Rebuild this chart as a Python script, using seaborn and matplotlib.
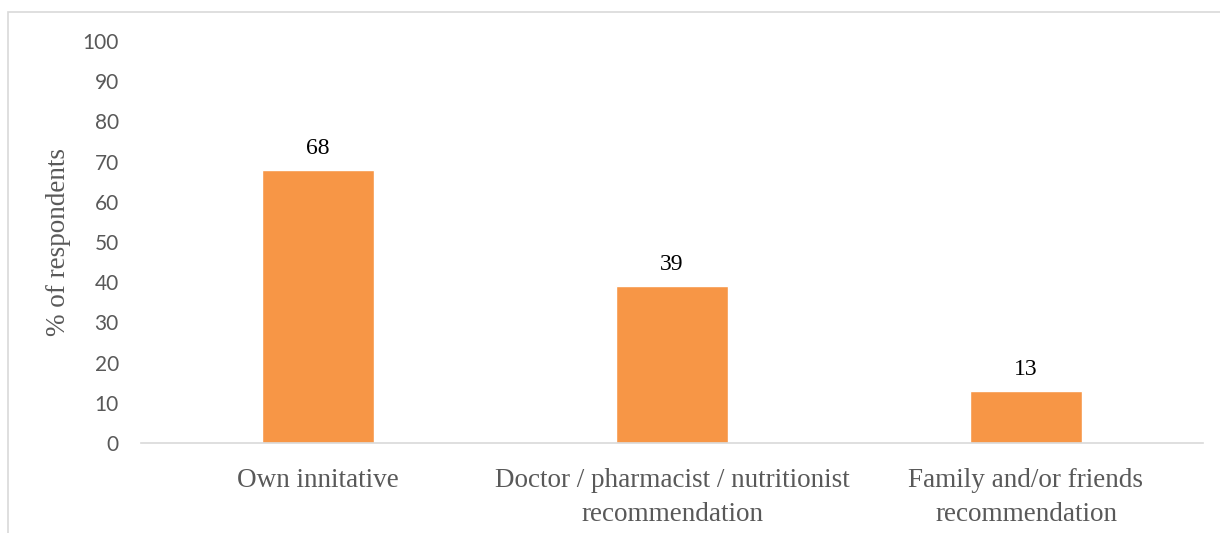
import matplotlib
matplotlib.use("Agg")
import matplotlib.pyplot as plt
import seaborn as sns
import pandas as pd
from matplotlib.patches import Rectangle

categories = ["Own innitative",
              "Doctor / pharmacist / nutritionist\nrecommendation",
              "Family and/or friends\nrecommendation"]
values = [68, 39, 13]
yticks = [0, 10, 20, 30, 40, 50, 60, 70, 80, 90, 100]

sns.set_theme(style="white")
plt.rcParams["font.family"] = ["Liberation Serif", "DejaVu Serif"]

df = pd.DataFrame({"source": categories, "pct": values})

fig = plt.figure(figsize=(12.2, 5.33), dpi=100)
ax = fig.add_axes([141 / 1220, 1 - 443 / 533, (1203 - 141) / 1220, (443 - 41) / 533])

sns.barplot(data=df, x="source", y="pct", color="#F79646", width=0.314,
            saturation=1, ax=ax)

ax.set_ylim(0, 100)
ax.set_xlim(-0.5, 2.5)
ax.set_yticks(yticks)
ax.set_yticklabels([str(t) for t in yticks], family="Lato", fontsize=15, color="#595959")
ax.tick_params(axis="y", length=0, pad=16)
ax.tick_params(axis="x", length=0, pad=18)
for lbl in ax.get_xticklabels():
    lbl.set_fontsize(19.5)
    lbl.set_color("#595959")
    lbl.set_linespacing(1.45)

for s in ["top", "right", "left"]:
    ax.spines[s].set_visible(False)
ax.spines["bottom"].set_color("#d9d9d9")
ax.spines["bottom"].set_linewidth(1.2)

ax.set_xlabel("")
ax.set_ylabel("% of respondents", fontsize=19.5, color="#595959", labelpad=8)

for i, v in enumerate(values):
    ax.annotate(str(v), (i, v), xytext=(0, 8), textcoords="offset points",
                ha="center", va="bottom", fontsize=17, color="black")

# chart frame
fig.add_artist(Rectangle((8 / 1220, -0.05), 1.2, 1 - 12 / 533 + 0.05,
                         transform=fig.transFigure, fill=False,
                         edgecolor="#d9d9d9", linewidth=1.2))

fig.savefig("out.png", dpi=100)
